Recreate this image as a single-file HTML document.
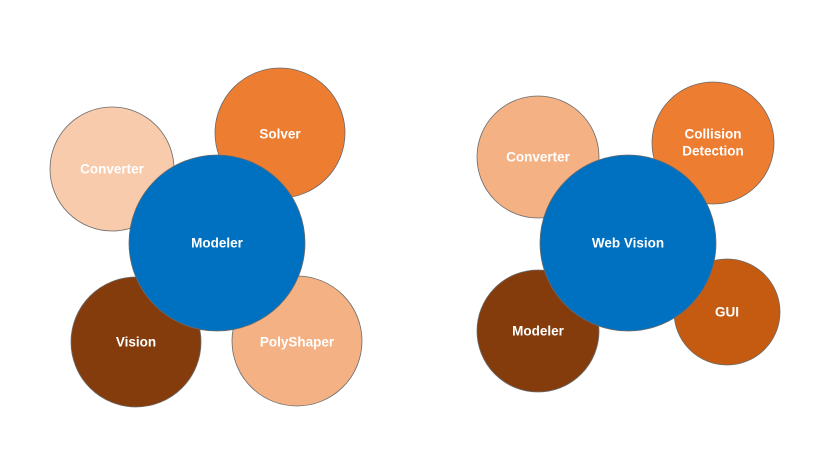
<!DOCTYPE html>
<html><head><meta charset="utf-8"><style>
html,body{margin:0;padding:0;background:#fff;}
svg text{font-family:"Liberation Sans",sans-serif;font-size:13.5px;font-weight:bold;fill:#fff;text-anchor:middle;dominant-baseline:central;}
</style></head><body>
<svg width="825" height="464" viewBox="0 0 825 464" xmlns="http://www.w3.org/2000/svg">
<g stroke="#6b6b6b" stroke-width="0.8">
<circle cx="112" cy="169" r="62" fill="#F8CBAD"/>
<circle cx="280" cy="133" r="65" fill="#ED7D31"/>
<circle cx="136" cy="342" r="65" fill="#843C0C"/>
<circle cx="297" cy="341" r="65" fill="#F4B183"/>
<circle cx="217" cy="243" r="88" fill="#0070C0"/>
<circle cx="538" cy="157" r="61" fill="#F4B183"/>
<circle cx="713" cy="143" r="61" fill="#ED7D31"/>
<circle cx="538" cy="331" r="61" fill="#843C0C"/>
<circle cx="727" cy="312" r="53" fill="#C55A11"/>
<circle cx="628" cy="243" r="88" fill="#0070C0"/>
</g>
<text x="112" y="169">Converter</text>
<text x="280" y="134">Solver</text>
<text x="136" y="342">Vision</text>
<text x="297" y="342">PolyShaper</text>
<text x="217" y="243">Modeler</text>
<text x="538" y="157">Converter</text>
<text x="713" y="134">Collision</text>
<text x="713" y="151">Detection</text>
<text x="538" y="331">Modeler</text>
<text x="727" y="312">GUI</text>
<text x="628" y="243">Web Vision</text>
</svg>
</body></html>
